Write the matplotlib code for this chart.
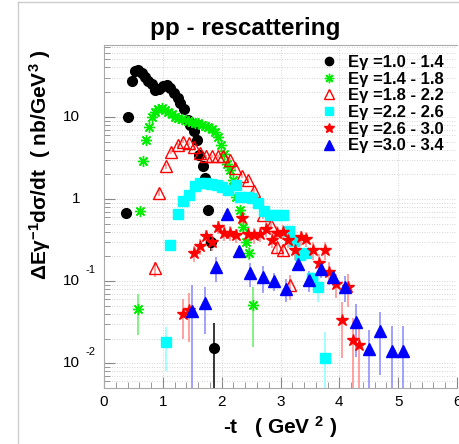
import matplotlib
matplotlib.use("Agg")
import matplotlib.pyplot as plt
import matplotlib.transforms as mtransforms
from matplotlib.lines import Line2D
from matplotlib.ticker import FixedLocator, MultipleLocator, LogLocator, NullFormatter
import numpy as np

plt.rcParams['font.family'] = ['Liberation Sans', 'DejaVu Sans']
plt.rcParams['mathtext.default'] = 'regular'

# E_gamma = 1.0 - 1.4
t_10 = [0.37, 0.41, 0.47, 0.53, 0.58, 0.64, 0.70, 0.75, 0.81, 0.87, 0.94, 1.01, 1.07, 1.13,
        1.19, 1.25, 1.30, 1.36, 1.42, 1.47, 1.53, 1.58, 1.62, 1.68, 1.72, 1.77, 1.82, 1.87]
xs_10 = [0.68, 9.9, 27, 35.7, 36.7, 34, 31, 27.7, 25, 21, 21.7, 24, 24.6, 22.4,
         19.4, 16.9, 14.7, 12.4, 9.2, 8.0, 6.8, 5.3, 3.4, 2.5, 1.8, 0.73, 0.30, 0.0155]
err_10 = [0.05, 0.3, 0.6, 0.7, 0.7, 0.7, 0.6, 0.6, 0.5, 0.5, 0.5, 0.5, 0.5, 0.5,
          0.4, 0.4, 0.4, 0.3, 0.3, 0.3, 0.2, 0.2, 0.15, 0.1, 0.1, 0.06, 0.07, 0.015]

# E_gamma = 1.4 - 1.8
t_14 = [0.58, 0.62, 0.66, 0.72, 0.77, 0.81, 0.87, 0.92, 0.98, 1.04, 1.09, 1.15, 1.21, 1.26,
        1.32, 1.38, 1.43, 1.49, 1.55, 1.60, 1.66, 1.72, 1.77, 1.83, 1.89, 1.94, 1.99, 2.04,
        2.09, 2.14, 2.20, 2.25, 2.31, 2.36, 2.41, 2.46, 2.53]
xs_14 = [0.046, 0.72, 2.9, 5.3, 7.6, 10, 11.6, 12.5, 12.8, 12.2, 11.6, 10.9, 10, 9.6,
         9.4, 9.2, 9.0, 8.7, 8.4, 8.4, 8.0, 7.8, 7.5, 7.1, 6.6, 5.75, 4.6, 3.5,
         2.7, 2.25, 1.7, 1.07, 0.73, 0.45, 0.30, 0.22, 0.051]
err_14 = [0.024, 0.06, 0.2, 0.3, 0.3, 0.4, 0.4, 0.4, 0.4, 0.4, 0.4, 0.4, 0.3, 0.3,
          0.3, 0.3, 0.3, 0.3, 0.3, 0.3, 0.3, 0.3, 0.3, 0.3, 0.3, 0.2, 0.2, 0.2,
          0.15, 0.15, 0.1, 0.08, 0.06, 0.05, 0.04, 0.04, 0.035]

# E_gamma = 1.8 - 2.2
t_18 = [0.86, 0.94, 1.05, 1.14, 1.25, 1.35, 1.45, 1.53, 1.63, 1.73, 1.83, 1.93, 2.03, 2.14,
        2.23, 2.34, 2.45, 2.55, 2.71, 2.84, 2.94, 3.04, 3.16]
xs_18 = [0.143, 1.2, 2.5, 3.7, 4.55, 5.0, 4.8, 4.27, 3.6, 3.3, 3.3, 3.3, 3.3, 3.0,
         2.4, 1.9, 1.7, 1.25, 0.63, 0.48, 0.26, 0.24, 0.089]
err_18 = [0.03, 0.1, 0.15, 0.2, 0.2, 0.2, 0.2, 0.2, 0.2, 0.15, 0.15, 0.15, 0.15, 0.15,
          0.12, 0.1, 0.1, 0.08, 0.06, 0.05, 0.04, 0.04, 0.03]

# E_gamma = 2.2 - 2.6
t_22 = [1.05, 1.13, 1.25, 1.35, 1.45, 1.54, 1.63, 1.73, 1.82, 1.92, 2.01, 2.10, 2.24, 2.32,
        2.43, 2.52, 2.62, 2.72, 2.82, 2.94, 3.04, 3.15, 3.23, 3.33, 3.44, 3.53, 3.64, 3.75]
xs_22 = [0.018, 0.275, 0.66, 0.95, 1.12, 1.44, 1.55, 1.55, 1.52, 1.48, 1.41, 1.29, 1.48, 1.07,
         1.07, 1.02, 0.89, 0.72, 0.64, 0.64, 0.64, 0.41, 0.31, 0.21, 0.22, 0.108, 0.084, 0.0117]
err_22 = [0.01, 0.03, 0.05, 0.06, 0.06, 0.07, 0.07, 0.07, 0.07, 0.07, 0.07, 0.07, 0.07, 0.06,
          0.06, 0.06, 0.06, 0.05, 0.05, 0.05, 0.05, 0.04, 0.03, 0.03, 0.03, 0.02, 0.028, 0.012]

# E_gamma = 2.6 - 3.0
t_26 = [1.35, 1.45, 1.53, 1.64, 1.74, 1.84, 1.93, 2.04, 2.14, 2.24, 2.34, 2.45, 2.55, 2.65,
        2.76, 2.85, 2.94, 3.04, 3.13, 3.24, 3.34, 3.44, 3.55, 3.65, 3.75, 3.83, 3.95, 4.04,
        4.14, 4.24, 4.34]
xs_26 = [0.040, 0.045, 0.22, 0.27, 0.35, 0.30, 0.46, 0.39, 0.39, 0.36, 0.58, 0.37, 0.36, 0.38,
         0.43, 0.32, 0.39, 0.40, 0.32, 0.24, 0.34, 0.33, 0.24, 0.165, 0.24, 0.13, 0.092, 0.0335,
         0.085, 0.019, 0.0169]
err_26 = [0.02, 0.027, 0.05, 0.06, 0.07, 0.07, 0.08, 0.08, 0.08, 0.07, 0.1, 0.08, 0.08, 0.08,
          0.09, 0.07, 0.08, 0.08, 0.07, 0.06, 0.07, 0.07, 0.06, 0.05, 0.06, 0.04, 0.03, 0.022,
          0.037, 0.017, 0.017]

# E_gamma = 3.0 - 3.4
t_30 = [1.50, 1.71, 1.90, 2.09, 2.30, 2.49, 2.70, 2.89, 3.10, 3.29, 3.49, 3.69, 3.89, 4.10,
        4.29, 4.50, 4.69, 4.89, 5.09]
xs_30 = [0.043, 0.054, 0.147, 0.66, 0.23, 0.126, 0.111, 0.10, 0.081, 0.162, 0.103, 0.139, 0.113, 0.085,
         0.032, 0.0151, 0.0246, 0.0141, 0.0143]
err_30 = [0.046, 0.031, 0.05, 0.05, 0.04, 0.04, 0.04, 0.025, 0.025, 0.03, 0.03, 0.03, 0.025, 0.03,
          0.02, 0.0105, 0.0175, 0.014, 0.014]

labels = ["Eγ =1.0 - 1.4", "Eγ =1.4 - 1.8", "Eγ =1.8 - 2.2",
          "Eγ =2.2 - 2.6", "Eγ =2.6 - 3.0", "Eγ =3.0 - 3.4"]

ytick_vals = [0.01, 0.1, 1, 10]
ytick_base = ["10", "10", "1", "10"]
ytick_exp = ["-2", "-1", "", ""]

series = [
    (t_10, xs_10, err_10, dict(marker='o', color='black', ms=7, mfc='black', mec='black'), 'black'),
    (t_14, xs_14, err_14, dict(marker=(8, 2, 0), color='#00ee00', ms=8, mew=1.0), '#66ee66'),
    (t_18, xs_18, err_18, dict(marker='^', color='red', ms=8, mfc='none', mec='red', mew=1.0), '#ff8888'),
    (t_22, xs_22, err_22, dict(marker='s', color='cyan', ms=7, mfc='cyan', mec='cyan'), '#88ffff'),
    (t_26, xs_26, err_26, dict(marker='*', color='red', ms=9, mfc='red', mec='red'), '#ff8888'),
    (t_30, xs_30, err_30, dict(marker='^', color='blue', ms=8, mfc='blue', mec='blue'), '#8888ff'),
]

fig = plt.figure(figsize=(4.59, 4.44), dpi=100)
ax = fig.add_axes([104 / 459, 1 - 388 / 444, (457 - 104) / 459, (388 - 45) / 444])
ax.set_yscale('log')
ax.set_xlim(0, 6)
ax.set_ylim(0.005, 75)

handles = []
for t, v, e, style, ecol in series:
    t = np.array(t)
    v = np.array(v)
    e = np.array(e)
    lo = np.minimum(e, v - 1e-6)
    ax.vlines(t, v - lo, v + e, colors=ecol, lw=1.1, zorder=2)
    if style['color'] == 'blue':
        ax.hlines(v, t - 0.05, t + 0.05, colors=ecol, lw=1.0, linestyles=(0, (1, 1)), zorder=2)
    h, = ax.plot(t, v, ls='none', zorder=3, **style)
    handles.append(h)

ax.grid(True, which='major', axis='x', color='#c8c8c8', lw=0.6, ls=(0, (1, 2)))
ax.grid(True, which='both', axis='y', color='#c8c8c8', lw=0.6, ls=(0, (1, 2)))
ax.set_axisbelow(True)

ax.xaxis.set_major_locator(MultipleLocator(1))
ax.xaxis.set_minor_locator(MultipleLocator(0.2))
ax.yaxis.set_major_locator(FixedLocator(ytick_vals))
ax.yaxis.set_minor_locator(LogLocator(base=10, subs=np.arange(2, 10)))
ax.yaxis.set_major_formatter(NullFormatter())
ax.yaxis.set_minor_formatter(NullFormatter())
ax.tick_params(axis='both', which='both', direction='in', colors='#888888',
               top=False, right=False)
ax.tick_params(axis='both', which='major', length=8, width=0.8)
ax.tick_params(axis='both', which='minor', length=4, width=0.6)
ax.tick_params(axis='x', labelcolor='black', labelsize=11, pad=5)
for sp in ['left', 'bottom', 'top']:
    ax.spines[sp].set_color('#aaaaaa')
    ax.spines[sp].set_linewidth(0.8)
ax.spines['right'].set_visible(False)

trans = mtransforms.blended_transform_factory(ax.transAxes, ax.transData)
for v, b, ex in zip(ytick_vals, ytick_base, ytick_exp):
    ax.text(-0.068, v, b, transform=trans, ha='right', va='center', fontsize=11)
    if ex:
        ax.text(-0.052, v * 1.2, ex, transform=trans, ha='left', va='bottom', fontsize=8)

ax.legend(handles, labels, loc='upper right', bbox_to_anchor=(0.99, 1.0), frameon=False,
          prop={'weight': 'bold', 'size': 12}, handlelength=1.0, handletextpad=0.6,
          labelspacing=0.1, borderaxespad=0.2, markerscale=0.85)

fig.text(245 / 459, 1 - 28 / 444, "pp - rescattering", ha='center', va='center',
         fontsize=17.5, fontweight='bold')
fig.text(280 / 459, 1 - 427 / 444, "-t   ( GeV $^{2}$ )", ha='center', va='center',
         fontsize=15, fontweight='bold')
fig.text(40 / 459, 1 - 165 / 444, "ΔEγ$^{-1}$dσ/dt  ( nb/GeV$^{3}$ )", ha='center', va='center',
         rotation=90, fontsize=15, fontweight='bold')

# canvas border
fig.add_artist(Line2D([18 / 459, 18 / 459], [0, 1 - 2 / 444], transform=fig.transFigure,
                      color='#cccccc', lw=1))
fig.add_artist(Line2D([18 / 459, 1], [1 - 2 / 444, 1 - 2 / 444], transform=fig.transFigure,
                      color='#cccccc', lw=1))

fig.savefig('out.png', dpi=100)
